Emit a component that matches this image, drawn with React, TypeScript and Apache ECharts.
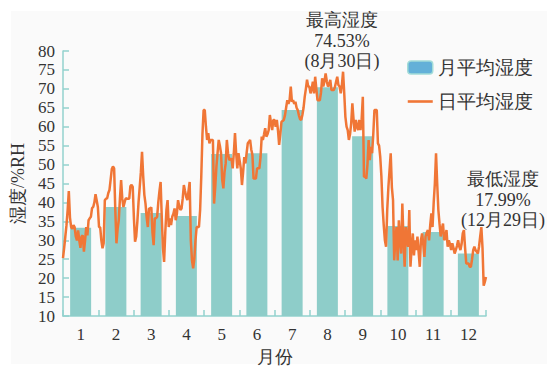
import React, { useEffect, useRef } from "react";
import * as echarts from "echarts";

const months = ["1", "2", "3", "4", "5", "6", "7", "8", "9", "10", "11", "12"];
const monthlyAvg = [33.3, 38.8, 37.2, 36.4, 52.8, 53.0, 64.4, 70.4, 57.5, 33.8, 32.2, 26.5];

const janDaily = [25.3, 28, 31, 34, 38, 43, 36, 33.5, 33, 34, 33.5, 31, 30, 32.6, 30, 28, 31, 31.3, 27, 30, 33.5, 31.3, 35.3, 35.8, 36.2, 38.5, 38.8, 40, 42.2, 40.5, 38.8];
const febDaily = [33.5, 33.4, 30, 27.9, 29.2, 40.6, 41, 41.1, 42.5, 43.3, 46, 48.8, 49.5, 49, 38, 29.2, 33, 35.3, 41, 45.9, 41, 38.8, 40, 41.1, 41, 41, 41, 44.3];
const marDaily = [44.6, 44.1, 36, 29.6, 31, 35, 40, 44, 48, 53.4, 47, 42, 39.7, 36, 33.5, 38.4, 38.4, 38.7, 32, 28.7, 35.8, 35.8, 36.2, 40, 43, 45.4, 36, 28, 24.3, 32, 38];
const aprDaily = [40.6, 33.5, 35.8, 34, 36.2, 37, 38.4, 35.3, 37, 40.6, 39, 38, 38.4, 41, 44.6, 43, 41.5, 40.6, 43, 45.4, 30, 24.7, 22.6, 25, 30, 33.5, 33.5, 33.5, 38, 47];
const mayDaily = [58, 64.4, 64.4, 60, 56.5, 58.3, 55.6, 56.5, 56.5, 56.5, 39.7, 44, 49.4, 53, 56.5, 55, 53, 46, 43.7, 48, 50.3, 56.5, 53, 51.2, 51.4, 51.6, 49, 53, 58.3, 53, 49];
const junDaily = [53, 51, 49, 44.6, 48, 52, 50.3, 53, 55.6, 56, 56.5, 54, 52.5, 46.3, 46.3, 46.3, 49, 49, 49, 52, 57.4, 56.5, 58, 59.6, 57.4, 58, 59.1, 63.1, 61, 59.1];
const julDaily = [61.8, 61.8, 60, 61.8, 59, 55.2, 58, 61.3, 61.5, 61.8, 63, 65, 67, 66, 67, 70.6, 66.6, 67, 66, 66.6, 65, 64.4, 63, 62, 61.8, 63.1, 65, 67.9, 70, 72.4, 70.6];
const augDaily = [70.6, 68.8, 70, 71.9, 68.8, 73.2, 70, 67, 67, 67, 69, 72.8, 70.6, 72, 74.1, 72, 70.6, 71, 72.4, 69.7, 69.7, 69.7, 70.5, 71.9, 73.2, 71, 70.6, 68.8, 71, 74.53, 68.9];
const sepDaily = [62.6, 60, 59.1, 56.5, 58, 60.9, 66.2, 62, 58.7, 61.8, 60, 59.1, 61.8, 59.1, 62, 67.9, 46.8, 46.8, 46.3, 50, 56.5, 51.2, 54.7, 53, 58, 64.4, 64.4, 64.4, 55.6, 55];
const octDaily = [52, 46.8, 38.8, 34, 30, 28.3, 38, 44, 48.5, 53, 44, 40.6, 24.7, 30, 33.5, 24.7, 35.3, 30, 26.5, 39.7, 30, 23, 33.5, 30, 28.3, 38, 23, 28, 31.8, 26, 30];
const novDaily = [27.4, 31, 27, 23, 30, 31.8, 29, 25.6, 31, 32, 32.7, 30, 34, 37.1, 33.5, 40, 45, 53, 45, 38, 34.4, 31, 33, 34.4, 30, 31, 32.7, 28.3, 30, 29];
const decDaily = [27.4, 29.2, 28, 26.5, 27.4, 28.5, 30, 28.3, 27.4, 29, 31.8, 32.7, 28, 23.9, 23.9, 23.9, 23, 23, 25, 27.4, 28.3, 27.4, 27, 26.5, 28.3, 31, 33.5, 28, 17.99, 19, 20.3];

const maxNote = ["最高湿度", "74.53%", "(8月30日)"];
const minNote = ["最低湿度", "17.99%", "(12月29日)"];

const FONT = "Liberation Serif, DejaVu Serif, serif";
const AXIS_COLOR = "#93d2ce";
const BAR_COLOR = "#8ecdc9";
const LINE_COLOR = "#f07636";
const TEXT_COLOR = "#333333";

export default function App() {
  const ref = useRef<HTMLDivElement>(null);
  useEffect(() => {
    if (!ref.current) return;
    const chart = echarts.init(ref.current, null, { renderer: "svg" });
    const daily = [
      ...janDaily, ...febDaily, ...marDaily, ...aprDaily, ...mayDaily, ...junDaily,
      ...julDaily, ...augDaily, ...sepDaily, ...octDaily, ...novDaily, ...decDaily,
    ];
    const noteText = (lines: string[], cx: number, cy: number) =>
      lines.map((t, i) => ({
        type: "text",
        z: 100,
        x: cx,
        y: cy + i * 20.5,
        style: {
          text: t,
          fill: TEXT_COLOR,
          fontSize: 18,
          fontFamily: FONT,
          textAlign: "center",
          textVerticalAlign: "middle",
        },
      }));
    chart.setOption({
      animation: false,
      backgroundColor: "#ffffff",
      textStyle: { fontFamily: FONT },
      grid: { left: 63, right: 66, top: 51, bottom: 51, containLabel: false, outerBoundsMode: "none" },
      legend: {
        orient: "vertical",
        left: 407,
        top: 58,
        padding: 0,
        itemWidth: 25,
        itemHeight: 13,
        itemGap: 15,
        textStyle: { fontSize: 19, color: TEXT_COLOR, fontFamily: FONT },
        data: [
          { name: "月平均湿度", itemStyle: { color: "#63b0d8", borderColor: "#a3dcd8", borderWidth: 1.5 } },
          { name: "日平均湿度", icon: "path://M0,0L25,0L25,2.6L0,2.6Z", itemStyle: { color: LINE_COLOR } },
        ],
      },
      graphic: [
        { type: "rect", z: -10, silent: true, shape: { x: 11, y: 11, width: 536, height: 353 }, style: { fill: "#fafafa" } },
        ...noteText(maxNote, 342, 20),
        ...noteText(minNote, 503, 179),
      ],
      xAxis: [
        {
          type: "category",
          data: months,
          boundaryGap: true,
          name: "月份",
          nameLocation: "middle",
          nameGap: 32,
          nameTextStyle: { fontSize: 18, color: TEXT_COLOR, fontFamily: FONT },
          axisLine: { show: true, lineStyle: { color: AXIS_COLOR, width: 1.5 } },
          axisTick: { show: true, inside: true, length: 6, lineStyle: { color: AXIS_COLOR, width: 1.5 } },
          axisLabel: { fontSize: 17, color: TEXT_COLOR, margin: 10, fontFamily: FONT },
          splitLine: { show: false },
        },
        { type: "value", min: 1, max: 365, show: false },
      ],
      yAxis: {
        type: "value",
        min: 10,
        max: 80,
        interval: 5,
        name: "湿度/%RH",
        nameLocation: "middle",
        nameGap: 33,
        nameTextStyle: { fontSize: 18, color: TEXT_COLOR, fontFamily: FONT },
        axisLine: { show: true, lineStyle: { color: AXIS_COLOR, width: 1.5 } },
        axisTick: { show: true, inside: true, length: 6, lineStyle: { color: AXIS_COLOR, width: 1.5 } },
        axisLabel: { fontSize: 17, color: TEXT_COLOR, margin: 8, fontFamily: FONT },
        splitLine: { show: false },
      },
      series: [
        {
          name: "月平均湿度",
          type: "bar",
          xAxisIndex: 0,
          data: monthlyAvg,
          barWidth: 21,
          itemStyle: { color: BAR_COLOR },
        },
        {
          name: "日平均湿度",
          type: "line",
          xAxisIndex: 1,
          data: daily.map((v, i) => [i + 1, v]),
          symbol: "none",
          showSymbol: false,
          lineStyle: { width: 2.5, color: LINE_COLOR },
          itemStyle: { color: LINE_COLOR },
        },
      ],
    });
    return () => chart.dispose();
  }, []);
  return (
    <div
      ref={ref}
      style={{ position: "absolute", left: 0, top: 0, width: 552, height: 367 }}
    />
  );
}
